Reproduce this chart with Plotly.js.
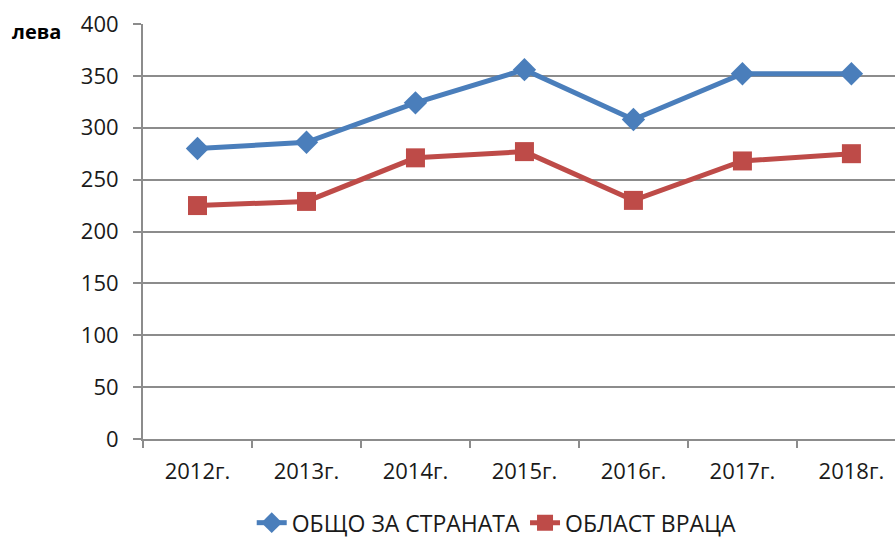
<!DOCTYPE html>
<html><head><meta charset="utf-8">
<script src="https://cdn.plot.ly/plotly-3.0.1.min.js"></script>
<style>html,body{margin:0;padding:0;background:#fff}#chart{width:895px;height:540px}</style>
</head><body><div id="chart"></div>
<script>
var years = ["2012г.", "2013г.", "2014г.", "2015г.", "2016г.", "2017г.", "2018г."];
var countryName = "ОБЩО ЗА СТРАНАТА";
var countryValues = [280, 286, 324, 356, 308, 352, 352];
var regionName = "ОБЛАСТ ВРАЦА";
var regionValues = [225, 229, 271, 277, 230, 268, 275];
var yTicks = [0, 50, 100, 150, 200, 250, 300, 350, 400];

var gridColor = "#8c8c8c";
var fam = "Open Sans, sans-serif";
var traces = [
  {x: years, y: countryValues, name: countryName, type: "scatter", mode: "lines+markers",
   line: {color: "#4a7ebb", width: 5},
   marker: {symbol: "diamond", size: 18, color: "#4a7ebb"}},
  {x: years, y: regionValues, name: regionName, type: "scatter", mode: "lines+markers",
   line: {color: "#be4b48", width: 5},
   marker: {symbol: "square", size: 19, color: "#be4b48"}}
];
var layout = {
  width: 895, height: 540,
  margin: {l: 143, r: 0, t: 24, b: 101, autoexpand: false},
  paper_bgcolor: "#fff", plot_bgcolor: "#fff",
  font: {family: fam, size: 21, color: "#1a1a1a"},
  showlegend: true,
  legend: {orientation: "h", xref: "container", yref: "container", x: 0.555, xanchor: "center",
           y: 0.032, yanchor: "middle", font: {size: 23, family: fam}, tracegroupgap: 0},
  xaxis: {type: "category", range: [-0.5, 6.4], showgrid: false, automargin: false,
          showline: true, linecolor: gridColor, linewidth: 2,
          ticks: "outside", tickson: "boundaries", ticklen: 7, tickcolor: gridColor, tickwidth: 2,
          tickfont: {size: 22, family: fam}, ticklabelstandoff: 12, fixedrange: true},
  yaxis: {range: [0, 400], tickvals: yTicks, ticktext: yTicks.map(String), automargin: false,
          showgrid: true, gridcolor: gridColor, gridwidth: 2,
          showline: true, linecolor: gridColor, linewidth: 2, zeroline: false,
          ticks: "outside", ticklen: 8, tickcolor: gridColor, tickwidth: 2,
          tickfont: {size: 22, family: fam}, ticklabelstandoff: 10},
  annotations: [{text: "<b>лева</b>", xref: "paper", yref: "paper", x: -0.177, y: 0.983,
                 xanchor: "left", yanchor: "middle", showarrow: false,
                 font: {size: 20, color: "#000", family: fam}}]
};
Plotly.newPlot("chart", traces, layout, {displayModeBar: false, staticPlot: true});
</script></body></html>
